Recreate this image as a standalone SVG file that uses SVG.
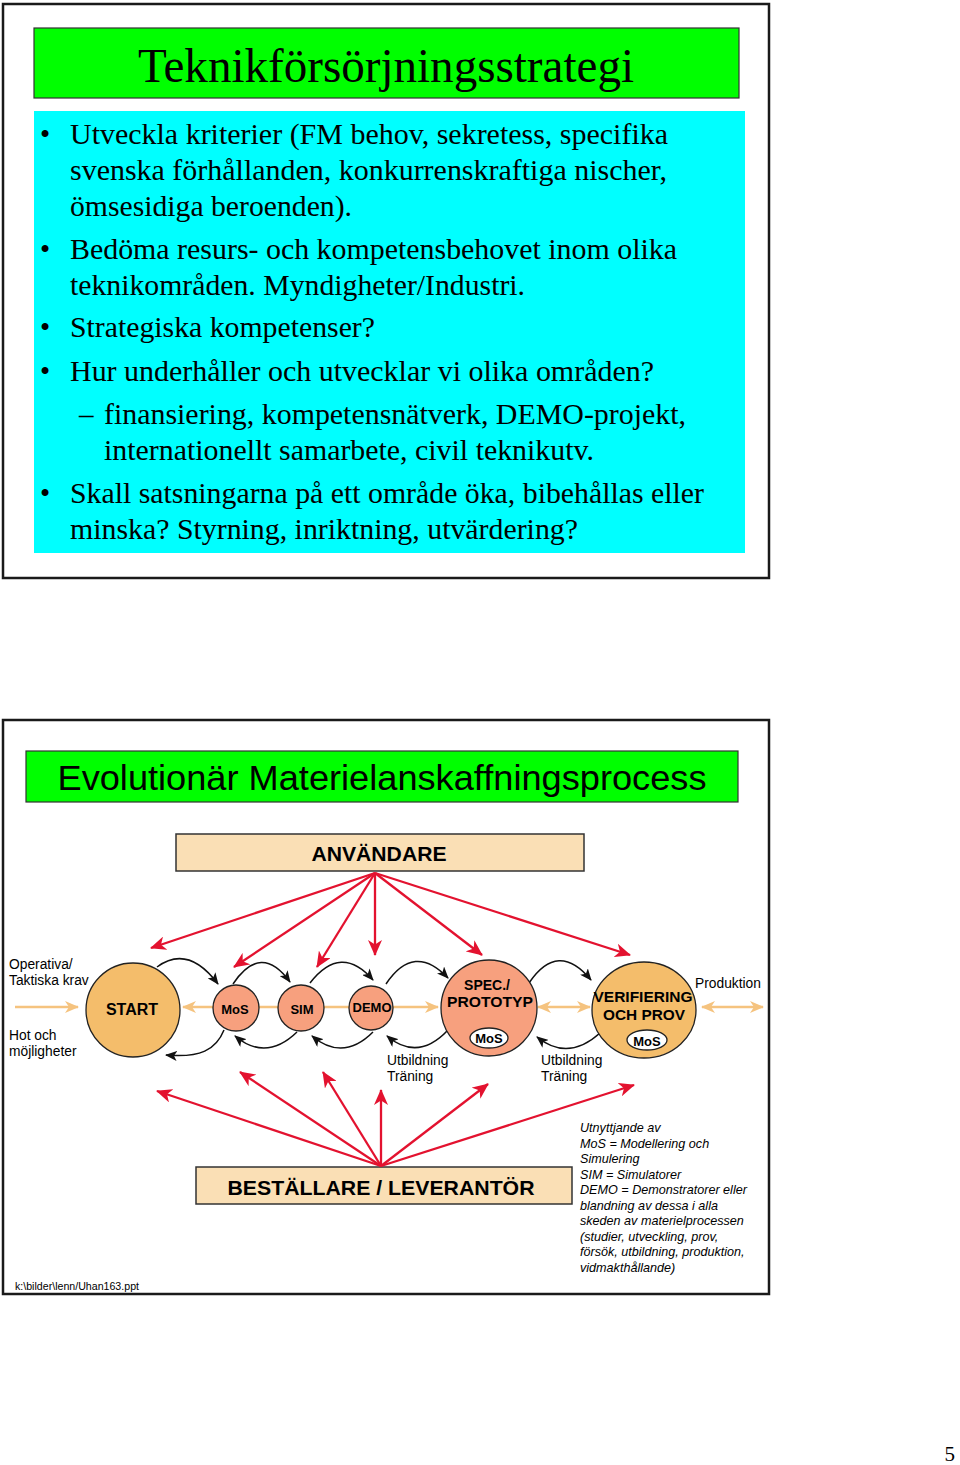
<svg xmlns="http://www.w3.org/2000/svg" width="960" height="1465" viewBox="0 0 960 1465">
<style>
.frame{fill:#fff;stroke:#1a1a1a;stroke-width:2.5}
.green{fill:#00FF00;stroke:#333;stroke-width:1.2}
.tan{fill:#FADFB5;stroke:#333;stroke-width:1.5}
.serif{font-family:"Liberation Serif","Times New Roman",serif;fill:#000}
.sans{font-family:"Liberation Sans",Arial,sans-serif;fill:#000}
.bold{font-weight:bold}
.lbl{font-size:13.8px}
.leg{font-size:12.6px;font-style:italic}
.c1{fill:#F4BD6B;stroke:#222;stroke-width:1.3}
.c2{fill:#F7A07E;stroke:#222;stroke-width:1.3}
.mos{fill:#fff;stroke:#222;stroke-width:1.3}
.red{stroke:#E3122F;stroke-width:2.3;fill:none;marker-end:url(#ar)}
.blk{stroke:#111;stroke-width:1.5;fill:none;marker-end:url(#ab)}
.org{stroke:#F5C37F;stroke-width:2.5;fill:none}
</style>
<defs>
<marker id="ar" markerUnits="userSpaceOnUse" markerWidth="16" markerHeight="14" refX="15" refY="7" orient="auto"><path d="M0,0 L16,7 L0,14 L4.5,7 z" fill="#E3122F"/></marker>
<marker id="ab" markerUnits="userSpaceOnUse" markerWidth="12" markerHeight="10" refX="11" refY="5" orient="auto"><path d="M0,0 L12,5 L0,10 L3,5 z" fill="#111"/></marker>
<marker id="ao" markerUnits="userSpaceOnUse" markerWidth="14" markerHeight="12" refX="13" refY="6" orient="auto-start-reverse"><path d="M0,0 L14,6 L0,12 L4,6 z" fill="#F5C37F"/></marker>
</defs>
<rect width="960" height="1465" fill="#fff"/>

<g id="slide1">
<rect class="frame" x="3" y="4" width="766" height="574"/>
<rect class="green" x="34" y="28" width="705" height="70"/>
<text class="serif" x="386" y="82" font-size="48" text-anchor="middle" textLength="496" lengthAdjust="spacingAndGlyphs">Teknikförsörjningsstrategi</text>
<rect x="34" y="111" width="711" height="442" fill="#00FFFF"/>
<g class="serif" font-size="29">
<text x="40" y="144">•</text>
<text x="70" y="144" textLength="598" lengthAdjust="spacingAndGlyphs">Utveckla kriterier (FM behov, sekretess, specifika</text>
<text x="70" y="180" textLength="597" lengthAdjust="spacingAndGlyphs">svenska förhållanden, konkurrenskraftiga nischer,</text>
<text x="70" y="216" textLength="282" lengthAdjust="spacingAndGlyphs">ömsesidiga beroenden).</text>
<text x="40" y="259">•</text>
<text x="70" y="259" textLength="607" lengthAdjust="spacingAndGlyphs">Bedöma resurs- och kompetensbehovet inom olika</text>
<text x="70" y="295" textLength="455" lengthAdjust="spacingAndGlyphs">teknikområden. Myndigheter/Industri.</text>
<text x="40" y="337">•</text>
<text x="70" y="337" textLength="305" lengthAdjust="spacingAndGlyphs">Strategiska kompetenser?</text>
<text x="40" y="381">•</text>
<text x="70" y="381" textLength="584" lengthAdjust="spacingAndGlyphs">Hur underhåller och utvecklar vi olika områden?</text>
<text x="79" y="424">–</text>
<text x="104" y="424" textLength="582" lengthAdjust="spacingAndGlyphs">finansiering, kompetensnätverk, DEMO-projekt,</text>
<text x="104" y="460" textLength="490" lengthAdjust="spacingAndGlyphs">internationellt samarbete, civil teknikutv.</text>
<text x="40" y="503">•</text>
<text x="70" y="503" textLength="634" lengthAdjust="spacingAndGlyphs">Skall satsningarna på ett område öka, bibehållas eller</text>
<text x="70" y="539" textLength="508" lengthAdjust="spacingAndGlyphs">minska? Styrning, inriktning, utvärdering?</text>
</g>
</g>

<g id="slide2">
<rect class="frame" x="3" y="720" width="766" height="574"/>
<rect class="green" x="26" y="751" width="712" height="51"/>
<text class="sans" x="382" y="790" font-size="35" text-anchor="middle" textLength="649" lengthAdjust="spacingAndGlyphs">Evolutionär Materielanskaffningsprocess</text>
</g>

<g id="anvandare">
<rect class="tan" x="176" y="834" width="408" height="37"/>
<text class="sans bold" x="379" y="861" font-size="20" text-anchor="middle" textLength="135" lengthAdjust="spacingAndGlyphs">ANVÄNDARE</text>
</g>

<g id="bestallare">
<rect class="tan" x="196" y="1167" width="376" height="37"/>
<text class="sans bold" x="381" y="1195" font-size="21" text-anchor="middle" textLength="307" lengthAdjust="spacingAndGlyphs">BESTÄLLARE / LEVERANTÖR</text>
</g>

<g id="connectors">
<line class="red" x1="375" y1="873" x2="151" y2="948"/>
<line class="red" x1="375" y1="873" x2="234" y2="967"/>
<line class="red" x1="375" y1="873" x2="317" y2="967"/>
<line class="red" x1="375" y1="873" x2="375" y2="955"/>
<line class="red" x1="375" y1="873" x2="482" y2="955"/>
<line class="red" x1="375" y1="873" x2="630" y2="955"/>
<line class="red" x1="381" y1="1166" x2="157" y2="1091"/>
<line class="red" x1="381" y1="1166" x2="240" y2="1072"/>
<line class="red" x1="381" y1="1166" x2="323" y2="1072"/>
<line class="red" x1="381" y1="1166" x2="381" y2="1090"/>
<line class="red" x1="381" y1="1166" x2="488" y2="1084"/>
<line class="red" x1="381" y1="1166" x2="634" y2="1085"/>

<line class="org" x1="15" y1="1007" x2="78" y2="1007" marker-end="url(#ao)"/>
<line class="org" x1="213" y1="1007" x2="183" y2="1007" marker-end="url(#ao)"/>
<line class="org" x1="259" y1="1007" x2="278" y2="1007"/>
<line class="org" x1="324" y1="1007" x2="349" y2="1007"/>
<line class="org" x1="393" y1="1007" x2="438" y2="1007" marker-end="url(#ao)"/>
<line class="org" x1="538" y1="1007" x2="590" y2="1007" marker-start="url(#ao)" marker-end="url(#ao)"/>
<line class="org" x1="702" y1="1007" x2="763" y2="1007" marker-start="url(#ao)" marker-end="url(#ao)"/>

<path class="blk" d="M157,967 Q188,944 218,984"/>
<path class="blk" d="M233,984 Q261,942 290,982"/>
<path class="blk" d="M310,983 Q341,943 373,980"/>
<path class="blk" d="M386,984 Q414,942 448,978"/>
<path class="blk" d="M529,983 Q558,940 591,980"/>
<path class="blk" d="M224,1030 C216,1050 200,1058 166,1055"/>
<path class="blk" d="M297,1032 Q266,1062 235,1036"/>
<path class="blk" d="M373,1032 Q343,1062 312,1036"/>
<path class="blk" d="M448,1030 Q418,1062 387,1036"/>
<path class="blk" d="M600,1033 Q568,1062 537,1037"/>
</g>

<g id="start">
<circle class="c1" cx="133" cy="1010" r="47"/>
<text class="sans bold" x="132" y="1015" font-size="16" text-anchor="middle">START</text>
</g>
<g id="mos">
<circle class="c2" cx="236" cy="1008" r="23"/>
<text class="sans bold" x="235" y="1014" font-size="13" text-anchor="middle">MoS</text>
</g>
<g id="sim">
<circle class="c2" cx="301" cy="1008" r="23"/>
<text class="sans bold" x="302" y="1014" font-size="13" text-anchor="middle">SIM</text>
</g>
<g id="demo">
<circle class="c2" cx="371" cy="1008" r="22"/>
<text class="sans bold" x="372" y="1012" font-size="13" text-anchor="middle">DEMO</text>
</g>
<g id="spec">
<circle class="c2" cx="489" cy="1008" r="48"/>
<text class="sans bold" x="487" y="990" font-size="14" text-anchor="middle">SPEC./</text>
<text class="sans bold" x="490" y="1007" font-size="14" text-anchor="middle" textLength="86" lengthAdjust="spacingAndGlyphs">PROTOTYP</text>
<ellipse class="mos" cx="489" cy="1038" rx="19" ry="10"/>
<text class="sans bold" x="489" y="1043" font-size="13" text-anchor="middle">MoS</text>
</g>
<g id="verifiering">
<ellipse class="c1" cx="644" cy="1010" rx="52" ry="48"/>
<text class="sans bold" x="643" y="1002" font-size="15" text-anchor="middle" textLength="99" lengthAdjust="spacingAndGlyphs">VERIFIERING</text>
<text class="sans bold" x="644" y="1020" font-size="15" text-anchor="middle" textLength="82" lengthAdjust="spacingAndGlyphs">OCH  PROV</text>
<ellipse class="mos" cx="647" cy="1040" rx="20" ry="10"/>
<text class="sans bold" x="647" y="1046" font-size="13" text-anchor="middle">MoS</text>
</g>

<g id="labels" class="sans lbl">
<text x="9" y="969">Operativa/</text>
<text x="9" y="985">Taktiska krav</text>
<text x="9" y="1040">Hot och</text>
<text x="9" y="1056">möjligheter</text>
<text x="387" y="1065">Utbildning</text>
<text x="387" y="1081">Träning</text>
<text x="541" y="1065">Utbildning</text>
<text x="541" y="1081">Träning</text>
<text x="695" y="988">Produktion</text>
</g>

<g id="legend" class="sans leg">
<text x="580" y="1132">Utnyttjande av</text>
<text x="580" y="1147.5">MoS = Modellering och</text>
<text x="580" y="1163">Simulering</text>
<text x="580" y="1178.5">SIM = Simulatorer</text>
<text x="580" y="1194">DEMO = Demonstratorer eller</text>
<text x="580" y="1209.5">blandning av dessa i alla</text>
<text x="580" y="1225">skeden av materielprocessen</text>
<text x="580" y="1240.5">(studier, utveckling, prov,</text>
<text x="580" y="1256">försök, utbildning, produktion,</text>
<text x="580" y="1271.5">vidmakthållande)</text>
</g>

<text class="sans" x="15" y="1290" font-size="10.5" textLength="124" lengthAdjust="spacingAndGlyphs">k:\bilder\lenn/Uhan163.ppt</text>
<text class="serif" x="955" y="1461" font-size="21" text-anchor="end">5</text>
</svg>
